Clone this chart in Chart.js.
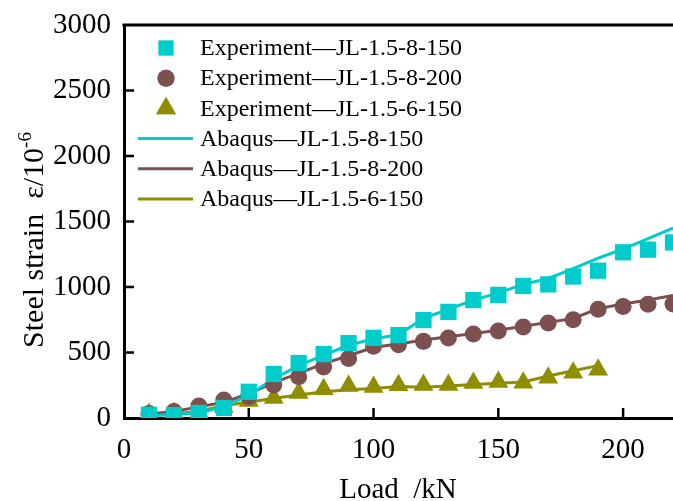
<!DOCTYPE html>
<html>
<head>
<meta charset="utf-8">
<script src="https://cdn.jsdelivr.net/npm/chart.js@4/dist/chart.umd.min.js"></script>
<style>
html,body{margin:0;padding:0;background:#fff;}
#wrap{width:673px;height:501px;}
</style>
</head>
<body>
<div id="wrap"><canvas id="strainChart"></canvas></div>
<script>
// data (load in kN, strain in 10^-6)
const loadsFull = [10,20,30,40,50,60,70,80,90,100,110,120,130,140,150,160,170,180,190,200,210,220];
const loadsShort = [10,20,30,40,50,60,70,80,90,100,110,120,130,140,150,160,170,180,190];

const expJL8150 = [25,22,38,76,200,336,420,488,572,612,633,748,810,900,940,1008,1020,1080,1125,1265,1285,1340];
const expJL8200 = [35,50,92,137,165,252,315,390,455,548,560,585,611,641,664,695,725,750,830,852,868,870];
const expJL6150 = [30,38,38,84,130,153,190,220,244,237,250,252,252,267,275,270,308,345,368];

const abqJL8150 = [20,25,40,85,175,300,400,480,555,605,635,760,830,900,955,1020,1065,1140,1220,1290,1370,1450];
const abqJL8200 = [30,50,85,120,185,270,340,415,475,540,565,595,620,645,670,700,730,760,835,870,900,935];
const abqJL6150 = [20,30,50,95,120,150,175,200,215,225,240,235,245,255,265,275,320,360,400];

const xTicks = [0,50,100,150,200];
const yTicks = [0,500,1000,1500,2000,2500,3000];

const cyan = 'rgb(0,204,204)';
const brown = 'rgb(125,80,80)';
const olive = 'rgb(142,142,0)';
const serif = '"Liberation Serif", "Times New Roman", serif';

function pts(xs, ys) {
    return xs.map((x, i) => ({x: x, y: ys[i]}));
}

const datasets = [
    {label:'Experiment\u2014JL-1.5-8-150', data:pts(loadsFull, expJL8150), showLine:false, pointStyle:'rect', pointRadius:11.5, backgroundColor:cyan, borderColor:cyan, borderWidth:0, order:0},
    {label:'Experiment\u2014JL-1.5-8-200', data:pts(loadsFull, expJL8200), showLine:false, pointStyle:'circle', pointRadius:8.5, backgroundColor:brown, borderColor:brown, borderWidth:0, order:0},
    {label:'Experiment\u2014JL-1.5-6-150', data:pts(loadsShort, expJL6150), showLine:false, pointStyle:'triangle', pointRadius:11.5, backgroundColor:olive, borderColor:olive, borderWidth:0, order:0},
    {label:'Abaqus\u2014JL-1.5-8-150', data:pts(loadsFull, abqJL8150), showLine:true, pointRadius:0, borderColor:cyan, borderWidth:3, order:1},
    {label:'Abaqus\u2014JL-1.5-8-200', data:pts(loadsFull, abqJL8200), showLine:true, pointRadius:0, borderColor:brown, borderWidth:3, order:1},
    {label:'Abaqus\u2014JL-1.5-6-150', data:pts(loadsShort, abqJL6150), showLine:true, pointRadius:0, borderColor:olive, borderWidth:3, order:1}
];

// frame, inward ticks, axis titles and legend
const decorations = {
    id: 'decorations',
    afterDraw(chart) {
        const {ctx, chartArea: a, scales: {x, y}} = chart;
        ctx.save();
        ctx.strokeStyle = '#000';
        ctx.lineWidth = 3;
        ctx.beginPath();
        ctx.moveTo(a.left - 1.5, a.top);
        ctx.lineTo(a.right + 2, a.top);
        ctx.stroke();

        ctx.lineWidth = 2.5;
        ctx.beginPath();
        yTicks.slice(1, -1).forEach(v => {
            const py = y.getPixelForValue(v);
            ctx.moveTo(a.left, py);
            ctx.lineTo(a.left + 10, py);
        });
        xTicks.slice(1).forEach(v => {
            const px = x.getPixelForValue(v);
            ctx.moveTo(px, a.bottom);
            ctx.lineTo(px, a.bottom - 10);
        });
        ctx.stroke();

        // axis titles
        ctx.fillStyle = '#000';
        ctx.font = '29px ' + serif;
        ctx.textAlign = 'center';
        ctx.textBaseline = 'alphabetic';
        ctx.fillText('Load  /kN', 398, 498);

        ctx.save();
        ctx.translate(43, 240);
        ctx.rotate(-Math.PI / 2);
        const main = 'Steel strain  \u03b5/10';
        ctx.font = '30px ' + serif;
        const w1 = ctx.measureText(main).width;
        ctx.font = '19px ' + serif;
        const w2 = ctx.measureText('-6').width;
        const start = -(w1 + w2) / 2;
        ctx.textAlign = 'left';
        ctx.font = '30px ' + serif;
        ctx.fillText(main, start, 0);
        ctx.font = '19px ' + serif;
        ctx.fillText('-6', start + w1, -12);
        ctx.restore();

        // legend
        ctx.font = '24px ' + serif;
        ctx.textAlign = 'left';
        ctx.textBaseline = 'middle';
        chart.data.datasets.forEach((ds, i) => {
            const ry = 48 + i * 30.2;
            if (ds.showLine) {
                ctx.strokeStyle = ds.borderColor;
                ctx.lineWidth = ds.borderWidth;
                ctx.beginPath();
                ctx.moveTo(138, ry);
                ctx.lineTo(193, ry);
                ctx.stroke();
            } else {
                ctx.fillStyle = ds.backgroundColor;
                const r = ds.pointStyle === 'rect' ? ds.pointRadius - 1 : ds.pointRadius;
                Chart.helpers.drawPoint(ctx, {pointStyle: ds.pointStyle, radius: r, borderWidth: 0, rotation: 0}, 166, ry);
                ctx.fill();
            }
            ctx.fillStyle = '#000';
            ctx.fillText(ds.label, 200, ry + 1);
        });
        ctx.restore();
    }
};

const ctx = document.getElementById('strainChart').getContext('2d');
new Chart(ctx, {
    type: 'scatter',
    data: {datasets: datasets},
    options: {
        responsive: true,
        maintainAspectRatio: false,
        animation: false,
        layout: {autoPadding: false, padding: {top: 25, right: 0, left: 0, bottom: 0}},
        plugins: {legend: {display: false}, tooltip: {enabled: false}},
        scales: {
            x: {
                type: 'linear',
                min: 0,
                max: 220,
                afterFit: s => { s.height = 83; s.paddingRight = 0; },
                afterBuildTicks: s => { s.ticks = xTicks.map(v => ({value: v})); },
                grid: {drawOnChartArea: false, drawTicks: false},
                border: {display: true, color: '#000', width: 3},
                ticks: {color: '#000', padding: 15, maxRotation: 0, font: {family: serif, size: 29}, callback: v => String(v)}
            },
            y: {
                type: 'linear',
                min: 0,
                max: 3000,
                afterFit: s => { s.width = 124; s.paddingTop = 0; },
                afterBuildTicks: s => { s.ticks = yTicks.map(v => ({value: v})); },
                grid: {drawOnChartArea: false, drawTicks: false},
                border: {display: true, color: '#000', width: 3},
                ticks: {color: '#000', padding: 13, font: {family: serif, size: 29}, callback: v => String(v)}
            }
        }
    },
    plugins: [decorations]
});
</script>
</body>
</html>
